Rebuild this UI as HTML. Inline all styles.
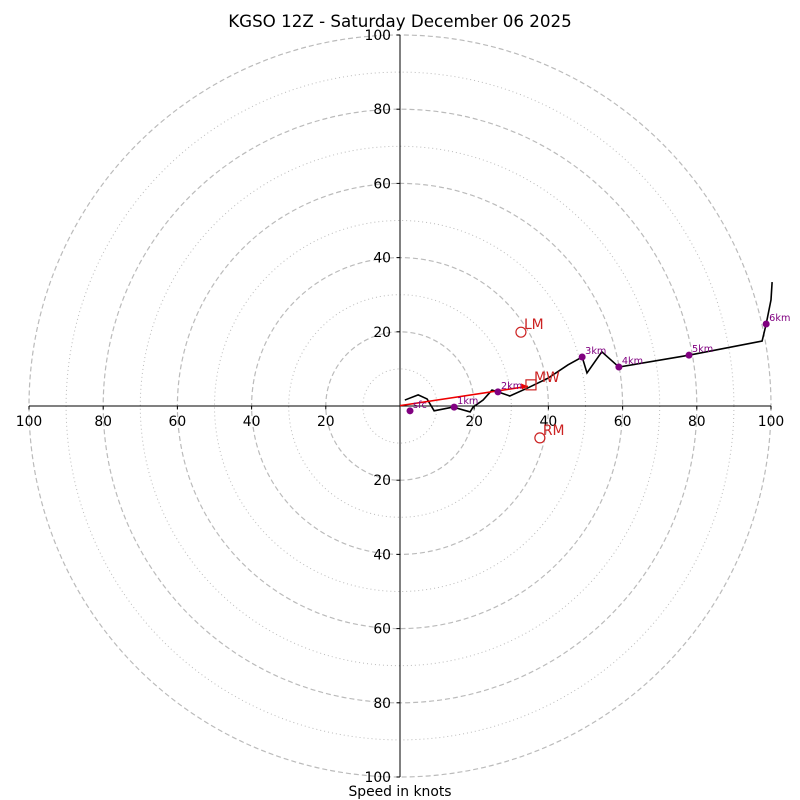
<!DOCTYPE html>
<html><head><meta charset="utf-8"><style>
body{margin:0;background:#fff}
svg{display:block;font-family:"DejaVu Sans","Liberation Sans",sans-serif}
</style></head><body>
<svg id="c" width="800" height="800" viewBox="0 0 800 800">
<rect width="800" height="800" fill="#fff"/>
<text x="400" y="27" text-anchor="middle" font-size="16.7">KGSO 12Z - Saturday December 06 2025</text>
<text x="400" y="796" text-anchor="middle" font-size="13.9">Speed in knots</text>
<defs><clipPath id="clip"><rect x="28" y="34" width="745" height="744"/></clipPath></defs>
<g id="rings"></g><g id="axes"></g><g id="plot" clip-path="url(#clip)"></g><g id="marks"></g>
</svg>
<script>
const ringValues=[10,20,30,40,50,60,70,80,90,100];
const tickValues=[20,40,60,80,100];
const windU=[1.3,4.9,7.3,9.2,14.3,18.9,19.7,22.4,24.8,26.4,29.6,34.5,39.9,45.3,49.1,50.4,54.4,59.0,77.9,97.6,98.7,100,100.3];
const windV=[1.6,3.0,1.9,-1.3,-0.3,-1.6,-0.3,1.6,4.3,3.8,2.7,4.9,7.5,11.1,13.2,8.9,14.6,10.5,13.7,17.5,22.1,28.6,33.4];
const heightLabels=["sfc","1km","2km","3km","4km","5km","6km"];
const heightU=[2.7,14.6,26.4,49.1,59.0,77.9,98.7];
const heightV=[-1.3,-0.3,3.8,13.2,10.5,13.7,22.1];
const motionLabels=["LM","RM"];
const motionU=[32.6,37.7];
const motionV=[19.9,-8.6];
const meanWind=[35.3,5.7];
const CX=400,CY=406,S=3.71;
const X=u=>CX+u*S, Y=v=>CY-v*S;
const NS="http://www.w3.org/2000/svg";
function mk(tag,attrs,parent,text){const e=document.createElementNS(NS,tag);for(const k in attrs)e.setAttribute(k,attrs[k]);if(text!==undefined)e.textContent=text;document.getElementById(parent).appendChild(e);return e;}
ringValues.forEach(r=>{
 const e=mk('circle',{cx:CX,cy:CY,r:r*S,fill:'none',stroke:'#bbb','stroke-width':r%20===0?1.2:1,'stroke-dasharray':r%20===0?'5,3':'1,3'},'rings');
 
 
});
let a=mk('line',{x1:CX,y1:Y(100),x2:CX,y2:Y(-100),stroke:'#000','stroke-width':1},'axes');


a=mk('line',{x1:X(-100),y1:CY,x2:X(100),y2:CY,stroke:'#000','stroke-width':1},'axes');


tickValues.forEach(t=>{
 [t,-t].forEach(s=>{
  mk('line',{x1:X(s),y1:CY,x2:X(s),y2:CY+3.5,stroke:'#000'},'axes');
  let l=mk('text',{x:X(s),y:CY+20,'text-anchor':'middle','font-size':13.9},'axes',t);
  
  
  mk('line',{x1:CX-3.5,y1:Y(s),x2:CX,y2:Y(s),stroke:'#000'},'axes');
  l=mk('text',{x:CX-9,y:Y(s)+5,'text-anchor':'end','font-size':13.9},'axes',t);
  
  
 });
});
let pts=windU.map((u,i)=>X(u)+','+Y(windV[i])).join(' ');
let p=mk('polyline',{points:pts,fill:'none',stroke:'#000','stroke-width':1.6},'plot');


let arr=mk('line',{x1:X(0),y1:Y(0.1),x2:X(meanWind[0])-3,y2:Y(meanWind[1]-0.4),stroke:'#e00','stroke-width':1.6},'marks');


const ax=X(meanWind[0])-3,ay=Y(meanWind[1]-0.4);
mk('polygon',{points:`${ax},${ay} ${ax-7},${ay-3} ${ax-6},${ay+3}`,fill:'#e00'},'marks');
let sq=mk('rect',{x:X(meanWind[0])-5,y:Y(meanWind[1])-5,width:10,height:10,fill:'none',stroke:'#c22','stroke-width':1.2},'marks');


let t=mk('text',{x:X(meanWind[0])+3,y:Y(meanWind[1])-3,fill:'#c22','font-size':13.9},'marks','MW');


motionLabels.forEach((lab,i)=>{
 let c=mk('circle',{cx:X(motionU[i]),cy:Y(motionV[i]),r:5,fill:'none',stroke:'#c22','stroke-width':1.2},'marks');
 
 
 let tt=mk('text',{x:X(motionU[i])+3,y:Y(motionV[i])-3,fill:'#c22','font-size':13.9},'marks',lab);
 
 
});
heightLabels.forEach((lab,i)=>{
 let c=mk('circle',{cx:X(heightU[i]),cy:Y(heightV[i]),r:3.5,fill:'#800080'},'marks');
 
 
 let tt=mk('text',{x:X(heightU[i])+3,y:Y(heightV[i])-3,fill:'#800080','font-size':9.7},'marks',lab);
 
 
});
</script>
</body></html>
